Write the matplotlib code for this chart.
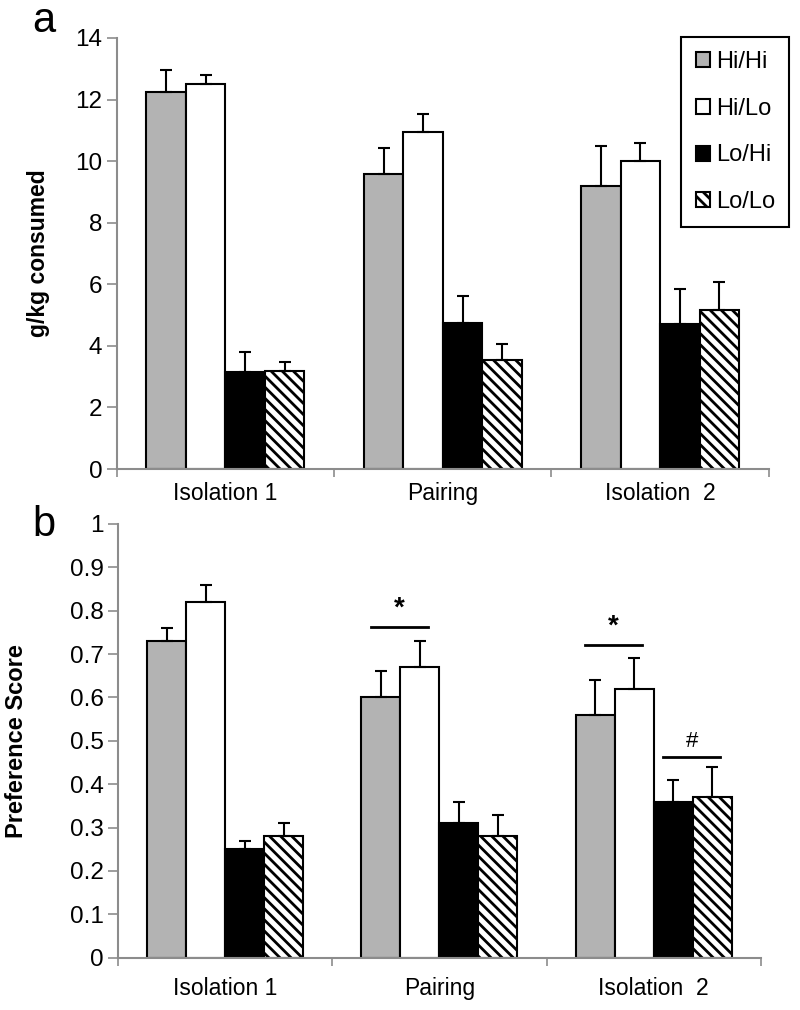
import numpy as np
import matplotlib
matplotlib.use('Agg')
import matplotlib.pyplot as plt

plt.rcParams['font.family'] = ['Liberation Sans', 'DejaVu Sans']
plt.rcParams['hatch.linewidth'] = 2.0

groups = ['Isolation 1', 'Pairing', 'Isolation  2']
series = ['Hi/Hi', 'Hi/Lo', 'Lo/Hi', 'Lo/Lo']

# panel a: g/kg consumed (mean and upper error)
gkg = [[12.25, 9.57, 9.2],
       [12.5, 10.94, 9.99],
       [3.15, 4.75, 4.72],
       [3.18, 3.55, 5.17]]
gkg_err = [[0.7, 0.85, 1.3],
           [0.3, 0.6, 0.6],
           [0.65, 0.88, 1.12],
           [0.3, 0.5, 0.9]]

# panel b: preference score
pref = [[0.73, 0.60, 0.56],
        [0.82, 0.67, 0.62],
        [0.25, 0.31, 0.36],
        [0.28, 0.28, 0.37]]
pref_err = [[0.03, 0.06, 0.08],
            [0.04, 0.06, 0.07],
            [0.02, 0.05, 0.05],
            [0.03, 0.05, 0.07]]

# significance marks: (group, first series, last series, line y, symbol)
sig = [(1, 0, 1, 0.762, '*'),
       (2, 0, 1, 0.721, '*'),
       (2, 2, 3, 0.463, '#')]

colors = ['#b3b3b3', 'white', 'black', 'white']
hatches = [None, None, None, '\\\\\\']

fig = plt.figure(figsize=(8, 10.1), dpi=100)
ax_a = fig.add_axes([0.146, 0.5356, 0.815, 0.4268])
ax_b = fig.add_axes([0.1475, 0.0518, 0.8035, 0.4294])

w = 1 / 5.5
x = np.arange(len(groups))
spine_col = '#8c8c8c'


def draw(ax, vals, errs, pad):
    handles = []
    for i in range(4):
        pos = x + (i - 1.5) * w
        b = ax.bar(pos, vals[i], w, color=colors[i], edgecolor='black',
                   linewidth=1.5, hatch=hatches[i], label=series[i], zorder=2)
        ax.errorbar(pos, vals[i], yerr=[np.zeros(3), errs[i]], fmt='none',
                    ecolor='black', elinewidth=1.5, capsize=4, capthick=1.5,
                    zorder=3)
        handles.append(b)
    ax.set_xlim(-0.5, 2.5)
    ax.set_xticks([-0.5, 0.5, 1.5, 2.5])
    ax.set_xticklabels([])
    ax.set_xticks(x, minor=True)
    ax.set_xticklabels(groups, minor=True, fontsize=16.5)
    ax.tick_params(axis='x', which='minor', length=0, pad=pad)
    ax.tick_params(axis='x', which='major', length=6, color=spine_col, width=1.2)
    ax.tick_params(axis='y', length=7, color=spine_col, width=1.2, labelsize=17.5)
    for s in ['top', 'right']:
        ax.spines[s].set_visible(False)
    for s in ['left', 'bottom']:
        ax.spines[s].set_color(spine_col)
        ax.spines[s].set_linewidth(1.5)
    return handles


h = draw(ax_a, gkg, gkg_err, 9)
ax_a.set_ylim(0, 14)
ax_a.set_yticks(np.arange(0, 15, 2))
ax_a.set_ylabel('g/kg consumed', fontsize=16.5, fontweight='bold', labelpad=18)
leg = ax_a.legend(handles=h, loc='upper right', bbox_to_anchor=(1.031, 1.003),
                  fontsize=17, handlelength=0.6, handleheight=0.6,
                  handletextpad=0.25, labelspacing=1.05, borderpad=0.6,
                  borderaxespad=0, fancybox=False, edgecolor='black', framealpha=1)
leg.get_frame().set_linewidth(1.5)

draw(ax_b, pref, pref_err, 14)
ax_b.set_ylim(0, 1)
ax_b.set_yticks(np.arange(0, 1.01, 0.1))
ax_b.set_yticklabels(['0'] + ['%.1f' % v for v in np.arange(0.1, 0.95, 0.1)] + ['1'])
ax_b.set_ylabel('Preference Score', fontsize=17, fontweight='bold', labelpad=30)

for g, s0, s1, yl, sym in sig:
    x0 = g + (s0 - 1.5) * w - 0.25 * w
    x1 = g + (s1 - 1.5) * w + 0.2 * w
    ax_b.plot([x0, x1], [yl, yl], color='black', lw=2, zorder=4)
    ax_b.text((x0 + x1) / 2, yl + 0.012, sym, ha='center', va='bottom',
              fontsize=20 if sym == '*' else 16, fontweight='bold' if sym == '*' else 'normal')

fig.text(0.04, 0.979, 'a', fontsize=30, ha='left', va='center')
fig.text(0.04, 0.480, 'b', fontsize=30, ha='left', va='center')

fig.savefig('out.png', dpi=100)
